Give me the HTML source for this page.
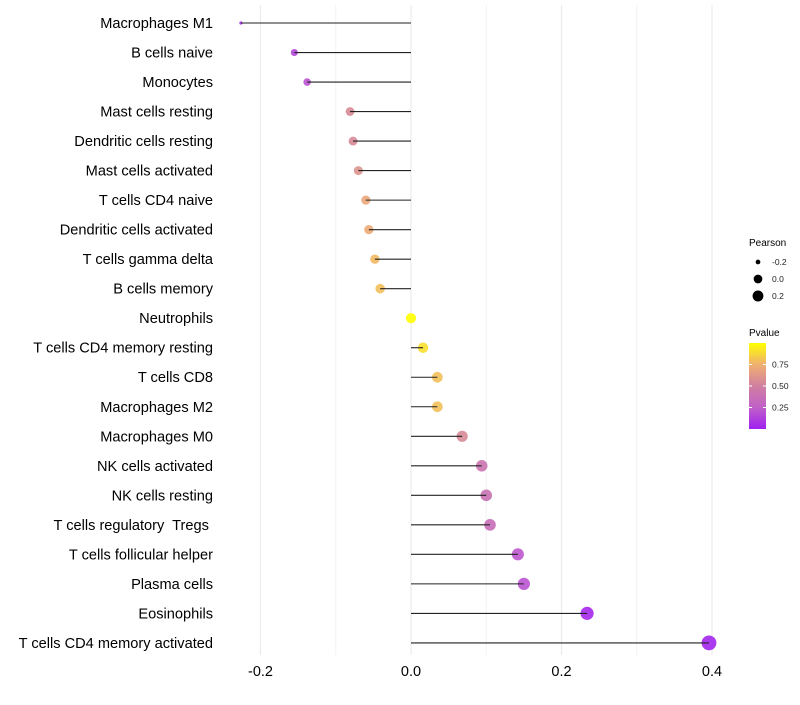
<!DOCTYPE html>
<html><head><meta charset="utf-8"><style>
body{margin:0;background:#fff;font-family:"Liberation Sans",sans-serif}
svg text{font-family:"Liberation Sans",sans-serif;white-space:pre}
</style></head><body>
<svg id="chart" width="800" height="700" xmlns="http://www.w3.org/2000/svg"></svg>
<script>
const categories=["Macrophages M1","B cells naive","Monocytes","Mast cells resting","Dendritic cells resting","Mast cells activated","T cells CD4 naive","Dendritic cells activated","T cells gamma delta","B cells memory","Neutrophils","T cells CD4 memory resting","T cells CD8","Macrophages M2","Macrophages M0","NK cells activated","NK cells resting","T cells regulatory  Tregs ","T cells follicular helper","Plasma cells","Eosinophils","T cells CD4 memory activated"];
const pearson=[-0.226,-0.155,-0.138,-0.081,-0.077,-0.070,-0.060,-0.056,-0.048,-0.041,0.0,0.016,0.035,0.035,0.068,0.094,0.100,0.105,0.142,0.150,0.234,0.396];
const pvalue=[0.05,0.15,0.2,0.55,0.55,0.6,0.7,0.72,0.78,0.8,1.0,0.9,0.8,0.8,0.55,0.4,0.38,0.35,0.22,0.2,0.03,0.02];
const xTicks=[-0.2,0.0,0.2,0.4];
const xTickLabels=["-0.2","0.0","0.2","0.4"];
const minorTicks=[-0.1,0.1,0.3];
const NS="http://www.w3.org/2000/svg";
const svg=document.getElementById('chart');
const x=v=>411+v*752.5;
const y=i=>23+i*29.52;
function el(t,a){const e=document.createElementNS(NS,t);for(const k in a)e.setAttribute(k,a[k]);svg.appendChild(e);return e;}
function lerp(a,b,t){return a+(b-a)*t;}
const stops=[[0,[160,32,240]],[0.25,[192,96,200]],[0.5,[208,128,160]],[0.75,[240,176,112]],[1,[255,255,0]]];
function col(p){for(let i=0;i<stops.length-1;i++){const [a,ca]=stops[i],[b,cb]=stops[i+1];if(p<=b){const t=(p-a)/(b-a);return `rgb(${ca.map((c,j)=>Math.round(lerp(c,cb[j],t))).join(',')})`;}}return 'rgb(255,255,0)';}
const pmin=Math.min(...pearson),pmax=Math.max(...pearson);
const rad=v=>1.6+5.8*Math.sqrt((v-pmin)/(pmax-pmin));
minorTicks.forEach(t=>{const g=el('line',{x1:x(t),x2:x(t),y1:5,y2:655,stroke:'#f2f2f2','stroke-width':1});

});
xTicks.forEach((t,i)=>{const g=el('line',{x1:x(t),x2:x(t),y1:5,y2:655,stroke:'#ebebeb','stroke-width':1.2});


const tx=el('text',{x:x(t),y:676,'text-anchor':'middle','font-size':14.5,fill:'#000'});tx.textContent=xTickLabels[i];

});
categories.forEach((c,i)=>{
const lb=el('text',{x:213,y:y(i)+5,'text-anchor':'end','font-size':14.6,fill:'#000'});lb.textContent=c;


const pt=el('circle',{cx:x(pearson[i]),cy:y(i),r:rad(pearson[i]),fill:col(pvalue[i]),'fill-opacity':0.9});


const ln=el('line',{x1:x(0),x2:x(pearson[i]),y1:y(i),y2:y(i),stroke:'#222','stroke-width':1.1});


});
const lt=el('text',{x:749,y:246,'font-size':10,fill:'#000'});lt.textContent='Pearson';


const legVals=[-0.2,0.0,0.2],legLab=["-0.2","0.0","0.2"];
legVals.forEach((v,i)=>{const cy=262+i*17;
const c=el('circle',{cx:758,cy:cy,r:rad(v)*0.85,fill:'#000'});


const t=el('text',{x:772,y:cy+3,'font-size':8.5,fill:'#222'});t.textContent=legLab[i];

});
const pt2=el('text',{x:749,y:336,'font-size':10,fill:'#000'});pt2.textContent='Pvalue';


const defs=el('defs',{});const lg=document.createElementNS(NS,'linearGradient');lg.setAttribute('id','pg');lg.setAttribute('x1',0);lg.setAttribute('x2',0);lg.setAttribute('y1',1);lg.setAttribute('y2',0);defs.appendChild(lg);
stops.forEach(s=>{const st=document.createElementNS(NS,'stop');st.setAttribute('offset',s[0]);st.setAttribute('stop-color',col(s[0]));lg.appendChild(st);});
const bar=el('rect',{x:749,y:343,width:17,height:86,fill:'url(#pg)'});


[[0.75,"0.75"],[0.5,"0.50"],[0.25,"0.25"]].forEach(([v,l])=>{const yy=429-v*86;
el('line',{x1:749,x2:752,y1:yy,y2:yy,stroke:'#fff'});el('line',{x1:763,x2:766,y1:yy,y2:yy,stroke:'#fff'});
const t=el('text',{x:772,y:yy+3,'font-size':8.5,fill:'#222'});t.textContent=l;

});
</script>
</body></html>
